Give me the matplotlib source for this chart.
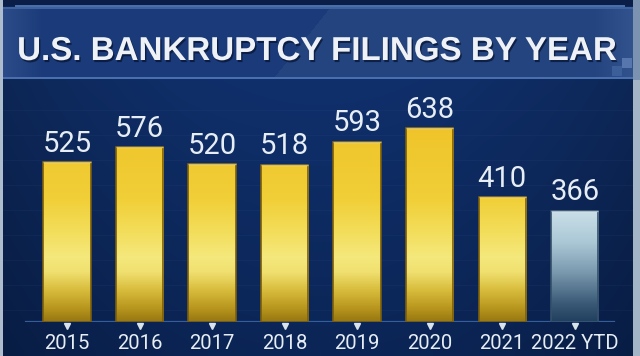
import numpy as np
import matplotlib
matplotlib.use('Agg')
import matplotlib.pyplot as plt
from matplotlib.colors import LinearSegmentedColormap, to_rgb
import matplotlib.patheffects as pe
import matplotlib.transforms as mtransforms

# ---------------- data ----------------
title = "U.S. BANKRUPTCY FILINGS BY YEAR"
categories = ["2015", "2016", "2017", "2018", "2019", "2020", "2021", "2022 YTD"]
filings = [525, 576, 520, 518, 593, 638, 410, 366]
is_ytd = [False, False, False, False, False, False, False, True]

NARROW = ['Liberation Sans Narrow', 'DejaVu Sans Condensed', 'Roboto', 'DejaVu Sans']
BOLD = ['Liberation Sans', 'Roboto', 'DejaVu Sans']

W, H = 640, 356
fig = plt.figure(figsize=(6.4, 3.56), dpi=100)

# ---------------- background (decoration) ----------------
bg = fig.add_axes([0, 0, 1, 1])
bg.set_xlim(0, W)
bg.set_ylim(H, 0)
bg.axis('off')

yy, xx = np.mgrid[0:H, 0:W].astype(float)
c_top = np.array(to_rgb('#10306c'))
c_bot = np.array(to_rgb('#0b2556'))
t = np.clip((yy - 80) / 270, 0, 1)[..., None]
img = c_top * (1 - t) + c_bot * t
vx = np.clip(np.abs(xx - 320) / 320, 0, 1)[..., None]
img = img * (1 - 0.22 * vx ** 2)
# faint horizontal grid lines
for gy in range(110, 320, 25):
    img[gy] = img[gy] * 0.9 + np.array(to_rgb('#3a5a9a')) * 0.1
# top strip
img[0:6] = np.array(to_rgb('#0a1e48'))
img[5:7, 15:625] = np.array(to_rgb('#4a6ea8'))
# banner
ban = np.array(to_rgb('#1a3a79'))
ban2 = np.array(to_rgb('#23447f'))
by0, by1 = 7, 78
diag = ((xx - 330) + (yy - 7) * 0.8 > 0)[by0:by1, 3:633]
bimg = np.where(diag[..., None], ban2, ban)
bx = xx[by0:by1, 3:633]
edge = np.clip(1 - np.minimum(bx - 3, 633 - bx) / 40, 0, 1)[..., None]
bimg = bimg * (1 - 0.35 * edge) + np.array(to_rgb('#4d6ea6')) * 0.35 * edge
img[by0:by1, 3:633] = bimg
img[by0:by0 + 2, 3:633] = np.array(to_rgb('#3e62a0'))
img[by1 - 1:by1 + 1, 3:633] = np.array(to_rgb('#4a6fae'))
# small squares in banner corner
img[66:76, 612:622] = np.array(to_rgb('#3d5f99'))
img[58:68, 622:632] = np.array(to_rgb('#5676ad'))
# side strips
img[:, 0:3] = np.array(to_rgb('#aebdcd'))
img[80:, 633:640] = np.array(to_rgb('#a3b4c7'))
img[0:80, 633:640] = np.array(to_rgb('#7b92b0'))
bg.imshow(img, extent=(0, W, H, 0), aspect='auto', interpolation='bilinear', zorder=0)

# title
tt = bg.text(317, 60, title, ha='center', va='baseline', fontsize=26,
             fontweight='bold', family=BOLD, color='#eef2f6', zorder=3,
             path_effects=[pe.withSimplePatchShadow(offset=(1, -1.5),
                                                    shadow_rgbFace='#06122e', alpha=0.7)])
fig.canvas.draw()
bw = tt.get_window_extent().width
tt.set_fontsize(26 * 599 / bw)

# ---------------- bars ----------------
px_per_unit = 0.303
base_px = 321.5
top_px = 80
ax = fig.add_axes([0, (H - base_px) / H, 1, (base_px - top_px) / H])
ax.patch.set_alpha(0)
ax.set_ylim(0, (base_px - top_px) / px_per_unit)
ax.set_xlim(-67 / 72.53, (640 - 67) / 72.53)
for s in ax.spines.values():
    s.set_visible(False)
ax.set_yticks([])

# baseline glow
ax.axhline(0, xmin=0.04, xmax=0.96, color='#3f6db0', lw=1.6, alpha=0.8, zorder=1)

yellow = LinearSegmentedColormap.from_list('yel', [
    (0.0, '#9a7a12'), (40 / 800, '#b8961e'), (100 / 800, '#d8bc3c'),
    (160 / 800, '#f0e070'), (210 / 800, '#f5e87c'), (290 / 800, '#f3de5c'),
    (400 / 800, '#f1cf38'), (640 / 800, '#efc42a'), (1.0, '#eec02a')])
bluec = LinearSegmentedColormap.from_list('blu', [
    (0.0, '#22405f'), (60 / 400, '#3c5b78'), (160 / 400, '#7a99ae'),
    (260 / 400, '#abc8d6'), (1.0, '#d4e7ee')])

width = 0.652
x = np.arange(len(categories))
bars = ax.bar(x, filings, width=width, color='none',
              edgecolor=['#34506c' if y else '#7a5e0e' for y in is_ytd],
              linewidth=1.2, zorder=3)
for b, v, ytd in zip(bars, filings, is_ytd):
    x0 = b.get_x()
    cmap = bluec if ytd else yellow
    span = 400 if ytd else 800
    grad = np.linspace(v / span, 0, 256)[:, None]
    im = ax.imshow(grad, extent=(x0, x0 + b.get_width(), 0, v), cmap=cmap,
                   vmin=0, vmax=1, aspect='auto', zorder=2, interpolation='bilinear')
    im.set_clip_path(b)
    # top bevel highlight
    ax.plot([x0, x0 + b.get_width()], [v, v], color='#fff3b0' if not ytd else '#eef6fa',
            lw=1.0, alpha=0.6, zorder=4, solid_capstyle='butt')

# value labels
for xi, v in zip(x, filings):
    ax.annotate(str(v), (xi, v), xytext=(0, 7.5), textcoords='offset points',
                ha='center', va='baseline', fontsize=21, family=NARROW,
                color='#e6edf3', zorder=5, annotation_clip=False)

# pointer triangles
tri_tr = mtransforms.offset_copy(ax.transData, fig=fig, x=0, y=-4.5, units='dots')
ax.plot(x, np.zeros(len(x)), linestyle='none', marker='v', markersize=5,
        color='#d8e3ec', transform=tri_tr, clip_on=False, zorder=5)

ax.set_xticks(x)
ax.set_xticklabels(categories, fontsize=14.6, family=NARROW, color='#e6edf3')
ax.tick_params(axis='x', length=0, pad=9)

fig.savefig('out.png', dpi=100)
